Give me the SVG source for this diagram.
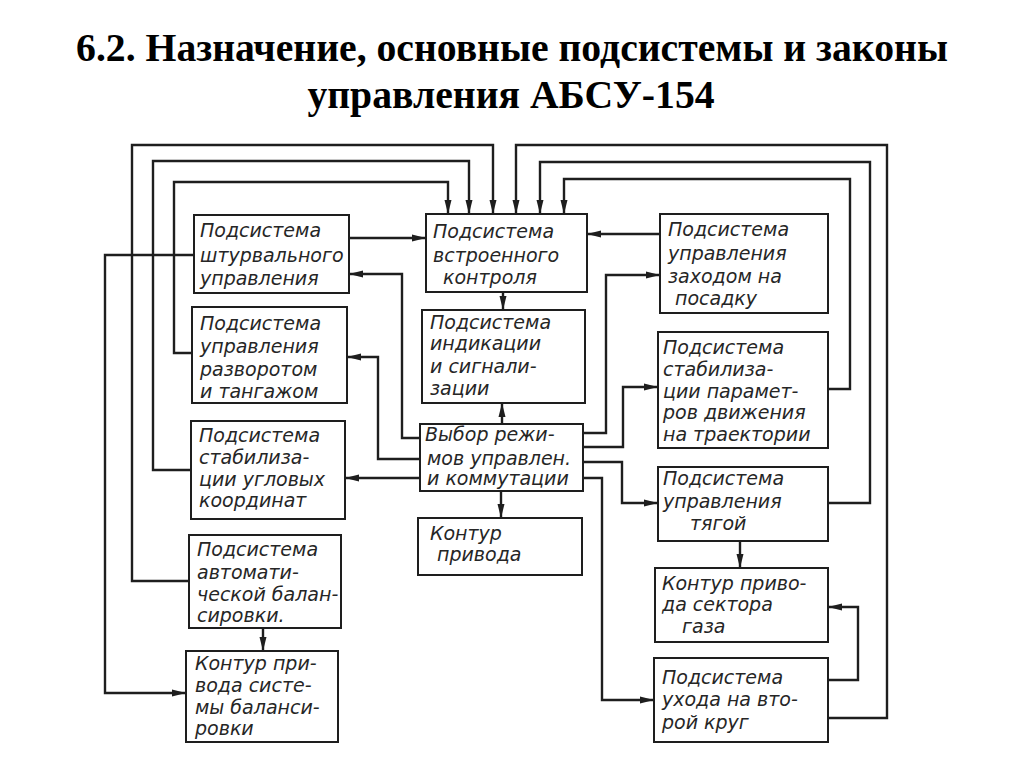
<svg xmlns="http://www.w3.org/2000/svg" width="1024" height="767" viewBox="0 0 1024 767">
<style>
.title{font-family:"Liberation Serif","Times New Roman",serif;font-weight:bold;font-size:39.7px;fill:#000;text-anchor:middle}
.box{fill:#fff;stroke:#1e1e1e;stroke-width:2}
.t{font-family:"DejaVu Sans","Liberation Sans",sans-serif;font-style:italic;font-size:19px;fill:#262626}
.c{fill:none;stroke:#1e1e1e;stroke-width:2.4;stroke-linejoin:miter}
.ca{fill:none;stroke:#1e1e1e;stroke-width:2.4;marker-end:url(#ah)}
</style>
<defs>
<marker id="ah" markerWidth="14" markerHeight="8" refX="14" refY="4" orient="auto" markerUnits="userSpaceOnUse">
<path d="M0,0.5 L14,4 L0,7.5 z" fill="#1e1e1e"/>
</marker>
</defs>
<rect width="1024" height="767" fill="#fff"/>
<text class="title" x="512" y="61">6.2. Назначение, основные подсистемы и законы</text>
<text class="title" x="511" y="108">управления АБСУ-154</text>

<g id="connectors">
<path class="ca" d="M192,353 H174 V182 H448 V214"/>
<path class="ca" d="M191,470 H153 V161 H469 V214"/>
<path class="ca" d="M189,581 H132 V145 H493 V214"/>
<path class="ca" d="M194,255 H105 V693 H186"/>
<path class="ca" d="M828,389 H850 V179 H564 V214"/>
<path class="ca" d="M828,503 H870 V162 H540 V214"/>
<path class="ca" d="M828,718 H887 V145 H516 V214"/>
<path class="ca" d="M349,238 H426"/>
<path class="ca" d="M420,438 H402 V274 H349"/>
<path class="ca" d="M420,459 H378 V357 H347"/>
<path class="ca" d="M420,478 H345"/>
<path class="ca" d="M503,292 V310"/>
<path class="ca" d="M502,424 V403"/>
<path class="ca" d="M501,491 V518"/>
<path class="ca" d="M660,234 H587"/>
<path class="ca" d="M583,433 H606 V275 H660"/>
<path class="ca" d="M583,447 H623 V387 H658"/>
<path class="ca" d="M583,462 H622 V503 H658"/>
<path class="ca" d="M583,478 H602 V700 H654"/>
<path class="ca" d="M740,541 V568"/>
<path class="ca" d="M828,680 H858 V607 H828"/>
<path class="ca" d="M263,628 V651"/>
</g>

<g id="n-shturval">
<rect class="box" x="194" y="215" width="155" height="78"/>
<text class="t" x="200" y="237">Подсистема</text>
<text class="t" x="200" y="262">штурвального</text>
<text class="t" x="200" y="285">управления</text>
</g>
<g id="n-razvorot">
<rect class="box" x="192" y="307" width="155" height="96"/>
<text class="t" x="200" y="330">Подсистема</text>
<text class="t" x="200" y="353">управления</text>
<text class="t" x="200" y="376">разворотом</text>
<text class="t" x="200" y="398">и тангажом</text>
</g>
<g id="n-stab-ugl">
<rect class="box" x="191" y="421" width="154" height="98"/>
<text class="t" x="199" y="442">Подсистема</text>
<text class="t" x="199" y="464">стабилиза-</text>
<text class="t" x="199" y="486">ции угловых</text>
<text class="t" x="199" y="507">координат</text>
</g>
<g id="n-avtobal">
<rect class="box" x="189" y="535" width="152" height="93"/>
<text class="t" x="197" y="556">Подсистема</text>
<text class="t" x="197" y="579">автомати-</text>
<text class="t" x="197" y="601">ческой балан-</text>
<text class="t" x="197" y="622">сировки.</text>
</g>
<g id="n-kontur-bal">
<rect class="box" x="186" y="651" width="152" height="91"/>
<text class="t" x="195" y="670">Контур при-</text>
<text class="t" x="195" y="692">вода систе-</text>
<text class="t" x="195" y="714">мы баланси-</text>
<text class="t" x="195" y="735">ровки</text>
</g>
<g id="n-vstroen">
<rect class="box" x="426" y="214" width="161" height="78"/>
<text class="t" x="433" y="238">Подсистема</text>
<text class="t" x="433" y="262">встроенного</text>
<text class="t" x="443" y="284">контроля</text>
</g>
<g id="n-indik">
<rect class="box" x="422" y="310" width="163" height="93"/>
<text class="t" x="430" y="329">Подсистема</text>
<text class="t" x="430" y="350">индикации</text>
<text class="t" x="430" y="373">и сигнали-</text>
<text class="t" x="430" y="395">зации</text>
</g>
<g id="n-vybor">
<rect class="box" x="420" y="424" width="163" height="67"/>
<text class="t" x="425" y="441">Выбор режи-</text>
<text class="t" x="427" y="465">мов управлен.</text>
<text class="t" x="427" y="485">и коммутации</text>
</g>
<g id="n-kontur-priv">
<rect class="box" x="418" y="518" width="164" height="57"/>
<text class="t" x="430" y="540">Контур</text>
<text class="t" x="437" y="561">привода</text>
</g>
<g id="n-zahod">
<rect class="box" x="660" y="214" width="168" height="99"/>
<text class="t" x="668" y="236">Подсистема</text>
<text class="t" x="668" y="260">управления</text>
<text class="t" x="668" y="283">заходом на</text>
<text class="t" x="675" y="305">посадку</text>
</g>
<g id="n-stab-param">
<rect class="box" x="658" y="332" width="170" height="116"/>
<text class="t" x="663" y="354">Подсистема</text>
<text class="t" x="663" y="376">стабилиза-</text>
<text class="t" x="663" y="398">ции парамет-</text>
<text class="t" x="663" y="419">ров движения</text>
<text class="t" x="663" y="441">на траектории</text>
</g>
<g id="n-tyaga">
<rect class="box" x="658" y="467" width="170" height="74"/>
<text class="t" x="663" y="485">Подсистема</text>
<text class="t" x="663" y="508">управления</text>
<text class="t" x="690" y="530">тягой</text>
</g>
<g id="n-sektor">
<rect class="box" x="655" y="568" width="173" height="74"/>
<text class="t" x="662" y="590">Контур приво-</text>
<text class="t" x="662" y="611">да сектора</text>
<text class="t" x="682" y="633">газа</text>
</g>
<g id="n-uhod">
<rect class="box" x="654" y="658" width="174" height="84"/>
<text class="t" x="662" y="684">Подсистема</text>
<text class="t" x="662" y="706">ухода на вто-</text>
<text class="t" x="662" y="729">рой круг</text>
</g>
</svg>
